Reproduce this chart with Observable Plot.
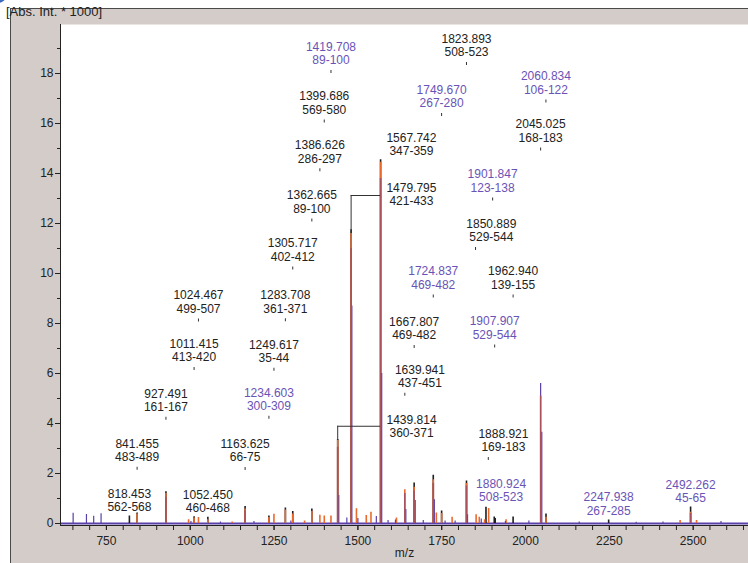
<!DOCTYPE html>
<html>
<head>
<meta charset="utf-8">
<script src="https://cdn.jsdelivr.net/npm/d3@7"></script>
<script src="https://cdn.jsdelivr.net/npm/@observablehq/plot@0.6"></script>
<style>
  html, body { margin: 0; padding: 0; background: #fff; }
  #wrap { position: relative; width: 748px; height: 563px; overflow: hidden; background: #fff; font-family: "Liberation Sans", Arial, sans-serif; }
  #panel { position: absolute; left: 10px; top: 8px; width: 760px; height: 600px; background: #d3ccc9; border-top: 1px solid #4a4a4a; border-left: 1px solid #4a4a4a; }
  #dot { position: absolute; left: -9px; top: -12px; width: 15px; height: 15px; border-radius: 50%; background: #3d6cc0; }
  #chart { position: absolute; left: 0; top: 0; }
  #title { position: absolute; left: 6px; top: 4px; font-size: 13px; color: #222; white-space: nowrap; }
</style>
</head>
<body>
<div id="wrap">
  <div id="panel"></div>
  <div id="dot"></div>
  <div id="chart"></div>
  <div id="title">[Abs. Int. * 1000]</div>
</div>
<script>
// ---------- data ----------
const xTicksMajor = [750, 1000, 1250, 1500, 1750, 2000, 2250, 2500];
const xTicksMinor = d3.range(650, 2651, 50);
const yTicksMajor = [0, 2, 4, 6, 8, 10, 12, 14, 16, 18];
const yTicksMinor = [1, 3, 5, 7, 9, 11, 13, 15, 17, 19];
const xDomain = [613, 2665];
const yDomain = [-0.08, 19.96];

// spectrum traces: [m/z, intensity (x1000)]
const blackPeaks = [[818.5,0.30],[841.5,0.42],[927.5,1.27],[1011.4,0.27],[1052.5,0.25],[1163.6,0.68],[1234.6,0.30],[1283.7,0.62],[1305.7,0.48],[1362.7,0.58],[1439.8,3.36],[1479.8,11.75],[1567.7,14.55],[1667.8,1.62],[1724.8,1.93],[1749.7,0.50],[1823.9,1.70],[1882.0,0.65],[1906.7,0.26],[1909.5,0.20],[1962.9,0.26],[2061.0,0.38],[2247.9,0.14],[2492.3,0.66]];
const orangePeaks = [[841.5,0.38],[927.5,1.20],[995,0.15],[1011.4,0.22],[1024.5,0.24],[1052.5,0.15],[1125,0.06],[1163.6,0.58],[1234.6,0.24],[1249.6,0.37],[1283.7,0.54],[1305.7,0.38],[1341,0.10],[1362.7,0.48],[1386.6,0.33],[1399.7,0.30],[1419.7,0.30],[1439.8,3.32],[1479.8,11.6],[1495.7,0.59],[1525,0.32],[1539,0.45],[1567.7,14.45],[1615,0.22],[1639.9,1.35],[1667.8,1.45],[1724.8,1.75],[1734,0.42],[1749.7,0.40],[1781,0.25],[1823.9,1.60],[1852.6,0.35],[1862,0.25],[1878,0.15],[1890,0.60],[1942,0.15],[2061,0.25],[2461,0.12],[2492.3,0.45],[2510,0.12]];
const purplePeaks = [[650.7,0.41],[690.4,0.36],[712,0.29],[734,0.39],[1002,0.08],[1090,0.06],[1190,0.08],[1300,0.10],[1443,1.12],[1467,0.22],[1482,8.7],[1500,0.20],[1555,0.28],[1571,6.0],[1590,0.12],[1612,0.14],[1643,0.56],[1671,0.92],[1695,0.12],[1728,0.95],[1760,0.10],[1790,0.10],[1827,0.35],[1868,0.18],[1940,0.08],[2010,0.10],[2045.0,5.6],[2048.5,3.65],[2160,0.06],[2330,0.05],[2410,0.06],[2583,0.08]];
const redPeaks = [[927.5,1.05],[1163.6,0.50],[1439.8,3.05],[1479.8,11.0],[1567.7,13.8],[1639.9,1.20],[1667.8,1.30],[1724.8,1.60],[1823.9,1.50],[2045.0,5.10],[2492.3,0.40]];

// peak annotations
const annText  = ["1419.708","1823.893","1399.686","1749.670","2060.834","2045.025","1386.626","1567.742","1901.847","1479.795","1362.665","1850.889","1305.717","1724.837","1962.940","1024.467","1283.708","1667.807","1907.907","1011.415","1249.617","1639.941","927.491","1234.603","1439.814","841.455","1163.625","1888.921","1880.924","818.453","1052.450","2247.938","2492.262"];
const annRange = ["89-100","508-523","569-580","267-280","106-122","168-183","286-297","347-359","123-138","421-433","89-100","529-544","402-412","469-482","139-155","499-507","361-371","469-482","529-544","413-420","35-44","437-451","161-167","300-309","360-371","483-489","66-75","169-183","508-523","562-568","460-468","267-285","45-65"];
const annSeries = ["B","A","A","B","B","A","A","A","B","A","A","A","A","B","A","A","A","A","B","A","A","A","A","B","A","A","A","A","B","A","A","B","B"];
const annLabelMz = [1419.7,1823.9,1399.7,1749.7,2060.8,2045.0,1386.6,1659.6,1901.8,1659.6,1362.7,1898,1305.7,1724.8,1962.9,1024.5,1283.7,1667.8,1907.9,1011.4,1249.6,1685,927.5,1234.6,1660,841.5,1163.6,1934,1927,818.5,1052.5,2247.9,2492.3];
const annLevel = [18.12,18.44,16.14,16.4,16.94,15.02,14.19,14.49,13.02,12.48,12.18,11.04,10.26,9.14,9.14,8.18,8.19,7.12,7.14,6.24,6.21,5.21,4.25,4.29,3.21,2.25,2.24,2.64,0.64,0.24,0.20,0.10,0.60];
const annTick = [true,true,true,true,true,true,true,false,true,false,true,true,true,true,true,true,true,true,true,true,true,true,true,true,false,true,true,true,false,false,false,false,false];

// leader brackets (peak -> label)
const bracketFrom  = [1479.795, 1439.814];
const bracketTo    = [1567.742, 1567.742];
const bracketPeak  = [11.6, 3.32];
const bracketLevel = [13.12, 3.89];

// ---------- build ----------
const toRows = a => a.map(([mz, h]) => ({mz, h}));
const ann = annText.map((t, i) => ({
  text: t, range: annRange[i], series: annSeries[i], peak: +t,
  lx: annLabelMz[i], level: annLevel[i], tick: annTick[i]
}));
const brackets = bracketFrom.map((f, i) => ({from: f, to: bracketTo[i], peak: bracketPeak[i], level: bracketLevel[i]}));

const W = 748, H = 563, mL = 60, mR = 0, mT = 24, mB = 38;
const PX = (yDomain[1] - yDomain[0]) / (H - mT - mB);
const labelColor = {A: "#222222", B: "#6a53b6"};
const fam = "'Liberation Sans', Arial, Helvetica, sans-serif";

const chart = Plot.plot({
  width: W, height: H,
  marginLeft: mL, marginRight: mR, marginTop: mT, marginBottom: mB,
  style: {background: "none", fontFamily: fam, fontSize: "12px", color: "#222", overflow: "visible"},
  x: {domain: xDomain},
  y: {domain: yDomain},
  marks: [
    Plot.frame({fill: "white", stroke: null}),
    Plot.ruleY([0], {stroke: "#5a40a8", strokeWidth: 2}),
    Plot.ruleX(toRows(blackPeaks), {x: "mz", y1: 0, y2: "h", stroke: "#1e1e1e", strokeWidth: 1.6}),
    Plot.ruleX(toRows(orangePeaks), {x: "mz", y1: 0, y2: "h", stroke: "#ea6a2e", strokeWidth: 1.6}),
    Plot.ruleX(toRows(purplePeaks), {x: "mz", y1: 0, y2: "h", stroke: "#5a40a8", strokeWidth: 1.2}),
    Plot.ruleX(toRows(redPeaks), {x: "mz", y1: 0, y2: "h", stroke: "#a9525d", strokeWidth: 1.6}),
    // brackets
    Plot.ruleX(brackets, {x: "from", y1: "peak", y2: "level", stroke: "#333", strokeWidth: 1}),
    Plot.ruleY(brackets, {y: "level", x1: "from", x2: "to", stroke: "#333", strokeWidth: 1}),
    // annotation ticks
    Plot.ruleX(ann.filter(d => d.tick), {x: "peak", y1: "level", y2: d => d.level - 3 * PX, stroke: "#333", strokeWidth: 1}),
    // annotation text
    Plot.text(ann, {x: "lx", y: "level", text: "text", dy: -23.5, fill: d => labelColor[d.series], fontSize: 12, fontFamily: fam}),
    Plot.text(ann, {x: "lx", y: "level", text: "range", dy: -10, fill: d => labelColor[d.series], fontSize: 12, fontFamily: fam}),
    // axes
    Plot.ruleX([xDomain[0]], {stroke: "#222", strokeWidth: 1}),
    Plot.ruleY([yDomain[0]], {stroke: "#222", strokeWidth: 1}),
    Plot.axisX({ticks: xTicksMinor, tickSize: 5, text: null, label: null, stroke: "#222"}),
    Plot.axisX({ticks: xTicksMajor, tickSize: 5, tickPadding: 6, tickFormat: d => String(d), label: null, fontSize: 12, fill: "#222", stroke: "#222"}),
    Plot.axisY({ticks: yTicksMinor, tickSize: 3, text: null, label: null, stroke: "#222"}),
    Plot.axisY({ticks: yTicksMajor, tickSize: 5, tickPadding: 2, tickFormat: d => String(d), label: null, fontSize: 12, fill: "#222", stroke: "#222"}),
    Plot.text(["m/z"], {frameAnchor: "bottom", dy: 31, fontSize: 12, fill: "#222", fontFamily: fam})
  ]
});
document.getElementById("chart").appendChild(chart);
</script>
</body>
</html>
